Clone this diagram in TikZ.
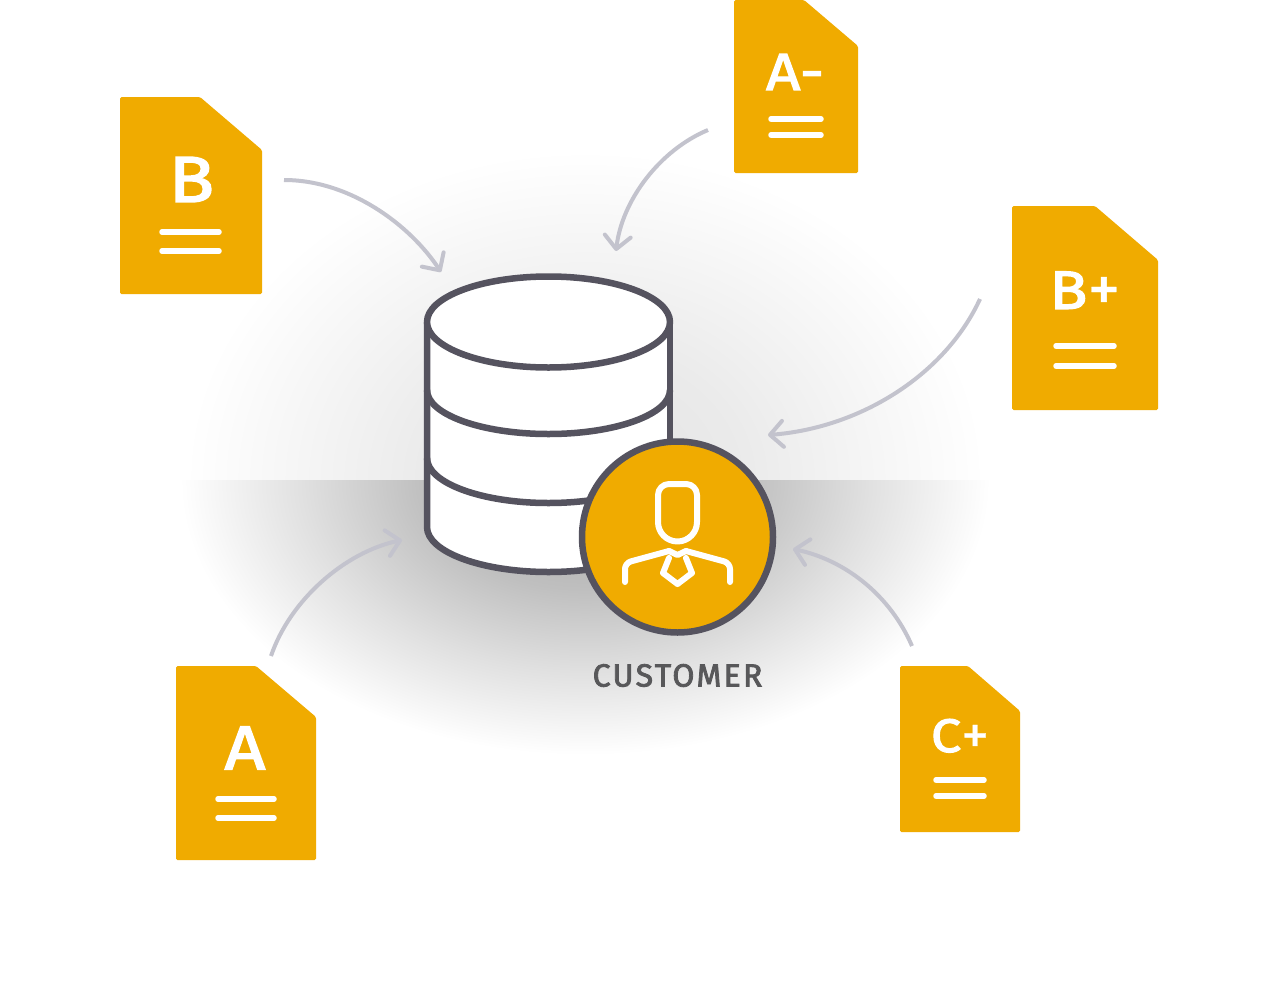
\documentclass[tikz,border=0pt]{standalone}
\usepackage{fontspec}
\setmainfont{Fira Sans}
\usetikzlibrary{arrows.meta}
\definecolor{docgold}{HTML}{F0AB00}
\definecolor{dbline}{HTML}{55535F}
\definecolor{arrowgrey}{HTML}{C3C3CD}
\definecolor{labelgrey}{HTML}{58585A}
\pgfdeclareradialshading{shadelow}{\pgfpoint{0bp}{0bp}}{%
  color(0bp)=(black!36);color(10bp)=(black!25);color(17.5bp)=(black!12);color(25bp)=(white);color(100bp)=(white)}
\pgfdeclareradialshading{shadeup}{\pgfpoint{0bp}{0bp}}{%
  color(0bp)=(black!11);color(10bp)=(black!8);color(17.5bp)=(black!4);color(25bp)=(white);color(100bp)=(white)}
\tikzset{
  docbody/.style={fill=docgold,draw=none,rounded corners=1.5pt},
  docletter/.style={text=white,inner sep=0pt,font=\fontsize{#1}{#1}\selectfont\addfontfeatures{FakeBold=2.5,FakeStretch=1.15}},
  docrule/.style={draw=white,line width=5.5pt,line cap=round},
  flow/.style={draw=arrowgrey,line width=4pt,-{Straight Barb[length=13pt,width=26pt,line width=4pt,round]}},
  dbstroke/.style={draw=dbline,line width=6.5pt,line join=round},
  iconstroke/.style={draw=white,line width=6pt,line cap=round,line join=round},
}
% name, x1, y1, x2, y2, cut x, cut y
\newcommand{\docsheet}[7]{%
  \path[docbody] (#2,#3) -- (#6,#3) -- (#4,#7) -- (#4,#5) -- (#2,#5) -- cycle;
  \coordinate (#1) at ({(#2+#4)/2},{(#3+#5)/2});
}
\newcommand{\bigplus}[2]{\raisebox{#2}{\fontsize{#1}{#1}\selectfont\addfontfeatures{FakeBold=0.5,FakeStretch=1}+}}
\begin{document}
\begin{tikzpicture}[x=1pt,y=-1pt]
\useasboundingbox (0,0) rectangle (1280,988);
\fill[white] (0,0) rectangle (1280,988);
% floor shadow
\begin{scope}
  \clip (0,0) rectangle (1280,480);
  \shade[shading=shadeup] (185,150) rectangle (985,810);
\end{scope}
\begin{scope}
  \clip (0,480) rectangle (1280,988);
  \shade[shading=shadelow] (180,205) rectangle (990,755);
\end{scope}
% documents
\docsheet{docB}{120}{97}{262}{294}{200}{150}
\node[docletter=65] (letB) at (191.5,179.5) {B};
\draw[docrule] (162,232) -- (219,232);
\draw[docrule] (162,251) -- (219,251);
\docsheet{docAm}{734}{0}{858}{173}{804}{46}
\node[docletter=52] (letAm) at (795,72) {A-};
\draw[docrule] (771,119) -- (821,119);
\draw[docrule] (771,135) -- (821,135);
\docsheet{docBp}{1012}{206}{1158}{410}{1095}{260}
\node[docletter=54] (letBp) at (1085,291.5) {B\bigplus{66}{-2.5pt}};
\draw[docrule] (1056,346) -- (1114,346);
\draw[docrule] (1056,366) -- (1114,366);
\docsheet{docA}{176}{666}{316}{860}{256}{717}
\node[docletter=62] (letA) at (245,748) {A};
\draw[docrule] (218,799) -- (274,799);
\draw[docrule] (218,818) -- (274,818);
\docsheet{docCp}{900}{666}{1020}{832}{968}{711}
\node[docletter=47] (letCp) at (960,736.5) {C\bigplus{56}{-2pt}};
\draw[docrule] (936,780) -- (984,780);
\draw[docrule] (936,796) -- (984,796);
% database
\path[fill=white] (427,322) -- (427,527) arc[start angle=180,end angle=0,x radius=121.5,y radius=45] -- (670,322) -- cycle;
\draw[dbstroke] (670,322) -- (670,450);
\draw[dbstroke] (427,322) -- (427,527) arc[start angle=180,end angle=0,x radius=121.5,y radius=45];
\draw[dbstroke] (427,390) arc[start angle=180,end angle=0,x radius=121.5,y radius=44];
\draw[dbstroke] (427,458) arc[start angle=180,end angle=0,x radius=121.5,y radius=45];
\draw[dbstroke,fill=white] (548.5,322) ellipse[x radius=121.5,y radius=45.5];
% customer badge
\node[circle,draw=dbline,line width=6.5pt,fill=docgold,minimum size=191pt,inner sep=0pt] (badge) at (677.5,537) {};
\draw[iconstroke] (658,495) arc[start angle=180,end angle=270,radius=11] -- (686,484) arc[start angle=270,end angle=360,radius=11] -- (697,522) arc[start angle=0,end angle=180,radius=19.5] -- cycle;
\draw[iconstroke,rounded corners=6pt] (625,582) -- (625,563) -- (669,551);
\draw[iconstroke] (669,551) -- (677.5,555) -- (686,551);
\draw[iconstroke,rounded corners=6pt] (686,551) -- (730,563) -- (730,582);
\draw[iconstroke] (669,558) -- (663,573) -- (677.5,584) -- (692,573) -- (686,558);
\node[text=labelgrey,inner sep=0pt,font=\fontsize{32}{32}\selectfont\addfontfeatures{LetterSpace=7,FakeBold=2.5}] (custlabel) at (677.5,675.5) {CUSTOMER};
% connectors
\coordinate (outB) at (284,180);   \coordinate (inB) at (441,272);
\coordinate (outAm) at (708,130);  \coordinate (inAm) at (616,251);
\coordinate (outBp) at (980,299);  \coordinate (inBp) at (768,435);
\coordinate (outA) at (271,656);   \coordinate (inA) at (402,540);
\coordinate (outCp) at (912,646);  \coordinate (inCp) at (793,549);
\draw[flow] (outB) .. controls (350,180) and (410,225) .. (inB);
\draw[flow] (outAm) .. controls (660,150) and (622,200) .. (inAm);
\draw[flow] (outBp) .. controls (945,375) and (860,428) .. (inBp);
\draw[flow] (outA) .. controls (290,600) and (345,552) .. (inA);
\draw[flow] (outCp) .. controls (890,595) and (845,560) .. (inCp);
\end{tikzpicture}
\end{document}
